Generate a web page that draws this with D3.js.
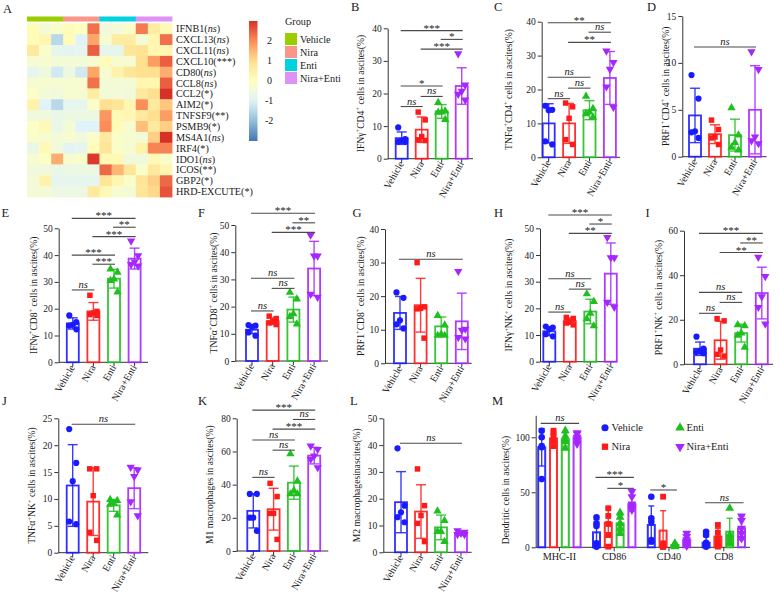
<!DOCTYPE html>
<html><head><meta charset="utf-8">
<script src="https://cdn.jsdelivr.net/npm/d3@7"></script>
<style>body{margin:0;background:#fff}svg{display:block}text{font-family:"Liberation Serif","Times New Roman",serif;fill:#1a1a1a}</style>
</head><body><svg id="c" width="780" height="593"></svg>
<script>
// ---------------- DATA ----------------
const groups = ["Vehicle","Nira","Enti","Nira+Enti"];
const groupColors = ["#1a1aff","#ff1a1a","#1fbf1f","#a626ff"];
const heatGroupColors = ["#9acd00","#fa958a","#00d3df","#df92f6"];
const genes = ["IFNB1","CXCL13","CXCL11","CXCL10","CD80","CCL8","CCL2","AIM2","TNFSF9","PSMB9","MS4A1","IRF4","IDO1","ICOS","GBP2","HRD-EXCUTE"];
const geneSig = ["ns","ns","ns","***","ns","ns","*","*","**","*","ns","*","ns","**","*","*"];
const sampleGroup = [0,0,0,1,1,1,2,2,2,3,3,3];
const heatValues = [
 [0.1,-0.4,-0.2,0.1,0.0,2.3,-0.5,-0.4,-0.2,2.2,0.6,0.2],
 [0.1,0.3,-1.5,0.1,-1.0,1.7,-0.3,0.6,0.6,-0.4,0.3,2.3],
 [0.7,-0.2,-0.8,-0.9,-0.8,2.5,-0.8,-0.8,0.8,0.9,0.3,0.3],
 [-0.3,-0.3,-0.4,-0.4,-0.4,-0.3,0.1,-0.3,-0.3,1.0,1.8,2.5],
 [-0.8,-0.5,-1.2,-0.6,-1.2,1.7,-0.3,0.4,0.8,1.0,1.0,1.6],
 [-0.3,-0.3,-0.3,-0.3,-0.3,2.3,-0.4,-0.4,-0.4,0.3,0.3,2.5],
 [-0.1,-0.4,-0.5,-0.3,-0.3,0.6,-0.4,-0.4,-0.5,0.7,1.0,3.0],
 [0.4,-1.0,-1.5,-0.8,-0.8,-0.2,1.0,0.8,0.3,2.0,0.7,1.3],
 [-0.5,-0.5,-0.7,-0.6,-0.6,-0.6,1.9,0.2,0.3,0.7,1.0,1.8],
 [-0.1,0.2,-0.7,-0.4,-1.0,-1.0,2.0,0.1,-0.3,1.4,0.7,1.2],
 [-0.2,-0.3,-0.4,-0.3,-0.5,-0.2,0.7,-0.2,-0.3,-0.4,1.2,3.0],
 [-0.7,0.2,-0.5,-0.9,-0.8,0.1,0.8,-0.2,-0.3,0.4,2.1,2.1],
 [-0.3,-0.1,1.6,-0.3,-0.2,2.9,0.2,0.2,-0.5,-0.5,0.2,-0.2],
 [-0.5,-0.5,-0.7,-0.6,-0.6,-0.6,2.4,1.5,0.8,-0.2,0.7,0.3],
 [-0.4,0.4,-0.8,-0.8,-0.8,-0.8,0.8,0.3,-0.2,0.8,1.2,2.4],
 [-0.4,-0.4,-0.6,-0.6,-0.6,0.7,0.2,-0.3,-0.4,0.8,1.1,2.6]
];
const colorTicks = [2,1,0,-1,-2];

const B_mean=[6.3,8.9,14.5,22.3], B_sd=[1.9,3.9,2.1,5.6];
const B_pts=[[9.6,6.0,5.5,5.2,5.2],[14.3,11.9,6.8,5.8,5.6],[17.2,14.6,14.3,14.2,12.0],[32.2,22.6,20.7,19.8,18.0]];
const B_sig=[[0,3,39.3,"***"],[2,3,36.6,"*"],[1,3,33.6,"***"],[0,2,22.3,"*"],[1,2,19.1,"ns"],[0,1,16.0,"ns"]];

const C_mean=[10.0,10.0,13.9,23.4], C_sd=[5.8,5.9,2.8,7.8];
const C_pts=[[15.2,14.0,13.9,4.7,3.8],[16.0,14.9,11.5,5.2,3.8],[18.0,14.4,13.3,12.8,11.8],[31.4,28.0,26.0,20.8,14.8]];
const C_sig=[[0,3,39.7,"**"],[2,3,36.9,"ns"],[1,3,33.9,"**"],[0,2,23.6,"ns"],[1,2,20.4,"ns"],[0,1,17.3,"ns"]];

const D_mean=[4.4,2.4,2.3,5.0], D_sd=[2.9,1.0,1.7,4.7];
const D_pts=[[8.7,6.2,2.7,2.6,2.0],[3.9,2.9,2.1,2.0,1.3],[5.2,2.3,1.5,1.0,0.7],[11.2,9.3,2.1,1.7,1.4]];
const D_sig=[[0,3,11.7,"ns"]];

const E_mean=[14.5,19.0,31.2,38.7], E_sd=[2.1,3.3,3.5,3.9];
const E_pts=[[17.5,15.0,14.0,13.7,12.3],[25.0,19.0,18.4,17.8,17.5],[34.8,33.6,31.0,30.5,26.2],[45.3,39.8,37.5,36.5,36.0]];
const E_sig=[[0,3,53.7,"***"],[2,3,50.4,"**"],[1,3,46.9,"***"],[0,2,40.0,"***"],[1,2,36.6,"***"],[0,1,27.0,"ns"]];

const F_mean=[11.5,14.6,18.9,34.0], F_sd=[1.4,1.2,4.6,10.0];
const F_pts=[[13.2,13.0,12.6,10.5,9.3],[16.5,15.6,14.5,14.0,13.4],[25.2,22.8,17.3,16.3,13.6],[46.3,38.6,38.6,24.6,23.5]];
const F_sig=[[0,3,54.3,"***"],[2,3,50.8,"**"],[1,3,47.3,"***"],[0,2,30.4,"ns"],[1,2,26.7,"ns"],[0,1,18.4,"ns"]];

const G_mean=[15.0,17.3,11.0,12.5], G_sd=[4.9,8.0,2.8,8.4];
const G_pts=[[21.1,19.5,12.8,11.6,10.4],[30.0,16.8,16.4,16.2,7.5],[14.2,11.4,8.6,8.3,8.3],[27.4,10.2,9.9,7.7,7.3]];
const G_sig=[[0,3,31.0,"ns"]];

const H_mean=[11.4,15.2,18.8,33.0], H_sd=[1.6,1.2,4.6,11.5];
const H_pts=[[13.2,12.8,12.2,10.3,9.5],[16.6,16.2,15.0,14.5,13.8],[25.4,22.5,18.1,16.1,13.4],[46.6,39.0,39.0,22.3,20.4]];
const H_sig=[[0,3,55.0,"***"],[2,3,51.6,"*"],[1,3,48.1,"**"],[0,2,31.1,"ns"],[1,2,27.2,"ns"],[0,1,18.6,"ns"]];

const I_mean=[7.0,10.8,14.0,32.0], I_sd=[3.0,8.5,4.0,11.6];
const I_pts=[[12.4,7.0,6.0,5.5,5.0],[20.5,19.5,6.4,4.5,3.7],[17.7,17.3,14.0,13.0,7.6],[48.1,39.5,30.4,25.6,18.1]];
const I_sig=[[0,3,58.8,"***"],[2,3,54.5,"**"],[1,3,50.2,"**"],[0,2,32.3,"ns"],[1,2,27.8,"ns"],[0,1,22.9,"ns"]];

const J_mean=[12.5,9.5,8.8,12.0], J_sd=[7.6,6.3,1.1,3.8];
const J_pts=[[23.0,16.7,13.3,5.8,5.3],[15.6,15.6,10.6,3.8,2.3],[9.9,9.7,9.2,9.0,7.0],[15.9,15.4,14.2,9.5,6.9]];
const J_sig=[[0,3,23.9,"ns"]];

const K_mean=[24.2,25.2,41.2,57.5], K_sd=[10.3,12.6,10.0,5.0];
const K_pts=[[34.4,34.4,20.1,20.1,12.1],[40.8,32.8,22.7,22.7,7.0],[58.5,42.2,36.4,34.4,34.4],[63.3,61.3,57.3,55.3,50.3]];
const K_sig=[[0,3,84.9,"***"],[2,3,79.3,"ns"],[1,3,73.5,"***"],[0,2,66.9,"ns"],[1,2,60.8,"ns"],[0,1,44.4,"ns"]];

const L_mean=[18.7,15.2,9.3,7.1], L_sd=[11.4,10.0,4.6,0.8];
const L_pts=[[38.8,17.4,14.9,13.1,11.2],[31.1,17.4,13.7,10.8,4.0],[15.4,11.8,7.7,7.7,4.0],[8.1,7.5,7.1,6.7,6.7]];
const L_sig=[[0,3,40.7,"ns"]];

const M_markers=["MHC-II","CD86","CD40","CD8"];
const M_mean=[[90.9,99,98,100],[13.6,22.4,21.8,39.4],[20.3,15.2,2.1,6.7],[4.2,9.7,14.2,17.3]];
const M_sd=[[17,4,6,4.5],[11.5,13,7,6.8],[17.3,18.1,1.5,4.5],[5.5,7.5,12.2,10.6]];
const M_pts=[
 [[106,100,92,91,62],[106,104,100,97,92],[106,101,98,96,90],[104,103,100,97,94]],
 [[27.3,21.8,19.4,3.6,0.6],[35.5,28.5,21.2,11.2,0.6],[31.5,27.3,21.8,17.3,12.7],[50.6,46,39.4,36.4,34]],
 [[46,26.4,23.3,6.7,5.2],[46,3.6,1.2,0.6,0.3],[3.6,3,2,1,0.5],[12.7,9.7,6.7,3.6,1.2]],
 [[14.2,11.2,4.2,2.1,0.6],[20.3,13.3,8.2,3.6,0.6],[35.5,11.2,8.2,5.2,3.6],[28.5,24.2,17.3,12.7,8.2]]
];
const M_sig=[[0,0,3,112.7,"ns"],[1,0,3,63.6,"***"],[1,1,3,53.6,"*"],[2,0,2,52.1,"*"],[3,0,3,40.5,"ns"]];

// ---------------- DRAW ----------------
const svg = d3.select("#c");
const symTypes = [d3.symbolCircle, d3.symbolSquare, d3.symbolTriangle, d3.symbolTriangle];
const symRot = [0,0,0,180];
const jitter = [-3.5,3.5,0,-3.5,3.5];

function letter(t,x,y){ svg.append("text").attr("x",x).attr("y",y).attr("font-size",12.5).text(t); }

// ---- A: heatmap ----
letter("A",3,13);
const hx = d3.scaleBand().domain(d3.range(12)).range([27,172]);
const hy = d3.scaleBand().domain(genes).range([23.3,197]);
const rdylbu7 = d3.schemeRdYlBu[7].slice().reverse();
const hcol = d3.scaleLinear().domain([-3,-2,-1,0,1,2,3]).range(rdylbu7).clamp(true);
const gA = svg.append("g");
sampleGroup.forEach((g,c)=>{
  gA.append("rect").attr("x",hx(c)).attr("y",16.5).attr("width",hx.bandwidth()+0.4).attr("height",5).attr("fill",heatGroupColors[g]);
});
heatValues.forEach((row,r)=>{
  row.forEach((v,c)=>{
    gA.append("rect").attr("x",hx(c)).attr("y",hy(genes[r])).attr("width",hx.bandwidth()+0.4).attr("height",hy.bandwidth()+0.4).attr("fill",hcol(v));
  });
  const t = gA.append("text").attr("x",176).attr("y",hy(genes[r])+hy.bandwidth()/2+3.5).attr("font-size",10.2);
  t.append("tspan").text(genes[r]+"(");
  t.append("tspan").attr("font-style",geneSig[r]==="ns"?"italic":"normal").text(geneSig[r]);
  t.append("tspan").text(")");
});
// colorbar
const cbY = d3.scaleLinear().domain([-3,3]).range([141,21]);
const defs = svg.append("defs");
const grad = defs.append("linearGradient").attr("id","cb").attr("x1",0).attr("y1",0).attr("x2",0).attr("y2",1);
d3.range(0,1.0001,0.05).forEach(t=>grad.append("stop").attr("offset",t).attr("stop-color",hcol(3-6*t)));
svg.append("rect").attr("x",249).attr("y",cbY(3)).attr("width",8.5).attr("height",cbY(-3)-cbY(3)).attr("fill","url(#cb)");
colorTicks.forEach(v=>svg.append("text").attr("x",v<0?265:267).attr("y",cbY(v)+3).attr("font-size",10).text(v));
// group legend
svg.append("text").attr("x",285).attr("y",24.5).attr("font-size",10.2).text("Group");
groups.forEach((g,i)=>{
  svg.append("rect").attr("x",285).attr("y",33+i*13).attr("width",12).attr("height",12).attr("fill",heatGroupColors[i]);
  svg.append("text").attr("x",300).attr("y",43+i*13).attr("font-size",10.2).text(g);
});

// ---- helpers ----
function styleAxis(ax){
  ax.select(".domain").attr("stroke","#333").attr("stroke-width",1);
  ax.selectAll(".tick line").attr("stroke","#333");
  ax.selectAll(".tick text").attr("font-size",9.5).attr("font-family",'"Liberation Serif",serif').attr("fill","#1a1a1a");
}
function yLabel(g,str,x,y){
  const t = g.append("text").attr("transform",`translate(${x},${y}) rotate(-90)`).attr("text-anchor","middle").attr("font-size",9.6);
  const parts = str.split("⁺");
  parts.forEach((p,i)=>{
    const ts = t.append("tspan").text(p);
    if(i>0) ts.attr("dy",3.2);
    if(i<parts.length-1) t.append("tspan").attr("dy",-3.2).attr("font-size",6.5).text("+");
  });
}
function sigLabel(g,x1,x2,yy,label){
  g.append("line").attr("x1",x1).attr("x2",x2).attr("y1",yy).attr("y2",yy).attr("stroke","#4a4a4a").attr("stroke-width",1.1);
  const t = g.append("text").attr("x",(x1+x2)/2).attr("text-anchor","middle");
  if(label==="ns") t.attr("y",yy-2).attr("font-size",10.5).attr("font-style","italic").text("ns");
  else t.attr("y",yy+1).attr("font-size",11).text(label);
}
function drawPoints(g,cx,yv,vals,i,offs,size){
  vals.forEach((v,k)=>{
    g.append("path").attr("d",d3.symbol().type(symTypes[i]).size(size)())
     .attr("transform",`translate(${cx+offs[k]},${yv(v)}) rotate(${symRot[i]})`).attr("fill",groupColors[i]);
  });
}
function errBar(g,cx,yv,m,s,i,cap){
  const lo=Math.max(0,m-s), hi=m+s;
  g.append("line").attr("x1",cx).attr("x2",cx).attr("y1",yv(lo)).attr("y2",yv(hi)).attr("stroke",groupColors[i]).attr("stroke-width",1.4).attr("opacity",0.85);
  [lo,hi].forEach(v=>g.append("line").attr("x1",cx-cap/2).attr("x2",cx+cap/2).attr("y1",yv(v)).attr("y2",yv(v)).attr("stroke",groupColors[i]).attr("stroke-width",1.4).attr("opacity",0.85));
}

function panel(L,mean,sd,pts,sig,ylab){
  letter(L.letter,L.lx,L.ly);
  const g = svg.append("g");
  const y = d3.scaleLinear().domain([0,L.max]).range([L.y0,L.yTop]);
  const x = d3.scalePoint().domain(groups).range([L.first,L.first+3*L.step]);
  const ax = g.append("g").attr("transform",`translate(${L.axisX},0)`)
    .call(d3.axisLeft(y).tickValues(d3.range(0,L.max+1e-6,L.tick)).tickSize(4).tickSizeOuter(0).tickPadding(2));
  styleAxis(ax);
  g.append("line").attr("x1",L.axisX).attr("x2",L.axisEnd).attr("y1",L.y0).attr("y2",L.y0).attr("stroke","#333");
  groups.forEach((gr,i)=>{
    const cx = x(gr);
    g.append("line").attr("x1",cx).attr("x2",cx).attr("y1",L.y0).attr("y2",L.y0+4).attr("stroke","#333");
    g.append("text").attr("transform",`translate(${cx+2.5},${L.y0+5}) rotate(-60)`).attr("text-anchor","end").attr("font-size",10).text(gr);
    g.append("rect").attr("x",cx-6).attr("y",y(mean[i])).attr("width",12).attr("height",L.y0-y(mean[i]))
      .attr("fill","none").attr("stroke",groupColors[i]).attr("stroke-width",1.8).attr("opacity",0.9);
    errBar(g,cx,y,mean[i],sd[i],i,10);
    drawPoints(g,cx,y,pts[i],i,jitter,30);
  });
  sig.forEach(s=>sigLabel(g,x(groups[s[0]])-1,x(groups[s[1]])+1,y(s[2]),s[3]));
  yLabel(g,ylab,L.ylx,(L.y0+L.yTop)/2);
}

panel({letter:"B",lx:351,ly:10.5,axisX:387.7,axisEnd:473,y0:158.7,yTop:28.3,max:40,tick:10,first:401.7,step:20,ylx:363.5},B_mean,B_sd,B_pts,B_sig,"IFNγ⁺CD4⁺ cells in ascites(%)");
panel({letter:"C",lx:494,ly:10.5,axisX:541.7,axisEnd:620,y0:157.3,yTop:21.7,max:40,tick:10,first:548.7,step:20.4,ylx:511.5},C_mean,C_sd,C_pts,C_sig,"TNFα⁺CD4⁺ cells in ascites(%)");
panel({letter:"D",lx:647,ly:10.5,axisX:682.3,axisEnd:766.7,y0:156.7,yTop:16,max:15,tick:5,first:695,step:20,ylx:668.5},D_mean,D_sd,D_pts,D_sig,"PRF1⁺CD4⁺ cells in ascites(%)");
panel({letter:"E",lx:1.5,ly:217,axisX:58.7,axisEnd:148,y0:362.3,yTop:228.3,max:50,tick:10,first:72.8,step:20.6,ylx:36.5},E_mean,E_sd,E_pts,E_sig,"IFNγ⁺CD8⁺ cells in ascites(%)");
panel({letter:"F",lx:198,ly:217,axisX:235.3,axisEnd:328,y0:361,yTop:225,max:50,tick:10,first:252,step:20.7,ylx:216.5},F_mean,F_sd,F_pts,F_sig,"TNFα⁺CD8⁺ cells in ascites(%)");
panel({letter:"G",lx:352.5,ly:216.5,axisX:385,axisEnd:471.7,y0:363.3,yTop:229,max:40,tick:10,first:400,step:20.6,ylx:363.5},G_mean,G_sd,G_pts,G_sig,"PRF1⁺CD8⁺ cells in ascites(%)");
panel({letter:"H",lx:494,ly:216.5,axisX:540,axisEnd:617,y0:361.7,yTop:228.3,max:50,tick:10,first:549.3,step:20.5,ylx:511.8},H_mean,H_sd,H_pts,H_sig,"IFNγ⁺NK⁺ cells in ascites(%)");
panel({letter:"I",lx:645.5,ly:216.5,axisX:684,axisEnd:773,y0:364.3,yTop:230.7,max:60,tick:20,first:700,step:20.6,ylx:661.5},I_mean,I_sd,I_pts,I_sig,"PRF1⁺NK⁺ cells in ascites(%)");
panel({letter:"J",lx:2,ly:405,axisX:58.3,axisEnd:148.3,y0:552.7,yTop:418.3,max:25,tick:5,first:72.7,step:20.5,ylx:35.2},J_mean,J_sd,J_pts,J_sig,"TNFα⁺NK⁺ cells in ascites(%)");
panel({letter:"K",lx:198,ly:405,axisX:236.7,axisEnd:328.3,y0:551,yTop:418.3,max:80,tick:20,first:253.3,step:20.3,ylx:212.8},K_mean,K_sd,K_pts,K_sig,"M1 macrophages in ascites(%)");
panel({letter:"L",lx:350,ly:405,axisX:383.3,axisEnd:471.7,y0:552.3,yTop:418.3,max:50,tick:10,first:401,step:20,ylx:360.2},L_mean,L_sd,L_pts,L_sig,"M2 macrophagesinascites(%)");

// ---- M: grouped ----
(function(){
  letter("M",492,405);
  const g = svg.append("g");
  const y0=547.3;
  const y = d3.scaleLinear().domain([0,120]).range([y0,y0-132]);
  const x0 = d3.scalePoint().domain(M_markers).range([541.7,541.7+3*54.8]);
  const x1 = d3.scalePoint().domain(groups).range([0,3*11.8]);
  const ax = g.append("g").attr("transform","translate(535.7,0)")
    .call(d3.axisLeft(y).tickValues([0,50,100]).tickSize(4).tickSizeOuter(0).tickPadding(2));
  styleAxis(ax);
  g.append("line").attr("x1",535.7).attr("x2",750).attr("y1",y0).attr("y2",y0).attr("stroke","#333");
  M_markers.forEach((m,mi)=>{
    const gc = x0(m)+x1.range()[1]/2;
    g.append("line").attr("x1",gc).attr("x2",gc).attr("y1",y0).attr("y2",y0+4).attr("stroke","#333");
    g.append("text").attr("x",gc).attr("y",y0+13).attr("text-anchor","middle").attr("font-size",10.2).text(m);
    groups.forEach((gr,i)=>{
      const cx = x0(m)+x1(gr);
      const mv = M_mean[mi][i];
      g.append("rect").attr("x",cx-3.5).attr("y",y(mv)).attr("width",7).attr("height",y0-y(mv))
        .attr("fill","none").attr("stroke",groupColors[i]).attr("stroke-width",2).attr("opacity",0.9);
      errBar(g,cx,y,mv,M_sd[mi][i],i,6);
      drawPoints(g,cx,y,M_pts[mi][i],i,[0,0,0,0,0],34);
    });
  });
  M_sig.forEach(s=>{
    const m=M_markers[s[0]];
    sigLabel(g,x0(m)+x1(groups[s[1]])-1,x0(m)+x1(groups[s[2]])+2,y(s[3]),s[4]);
  });
  yLabel(g,"Dendritic cells in ascites(%)",508.5,490);
  // legend
  const lp=[[605,427.7],[605,446.7],[680,427.7],[680,446.7]];
  groups.forEach((gr,i)=>{
    g.append("path").attr("d",d3.symbol().type(symTypes[i]).size(40)())
      .attr("transform",`translate(${lp[i][0]},${lp[i][1]}) rotate(${symRot[i]})`).attr("fill",groupColors[i]);
    g.append("text").attr("x",lp[i][0]+6.5).attr("y",lp[i][1]+3.6).attr("font-size",10.5).text(gr);
  });
})();
</script></body></html>
